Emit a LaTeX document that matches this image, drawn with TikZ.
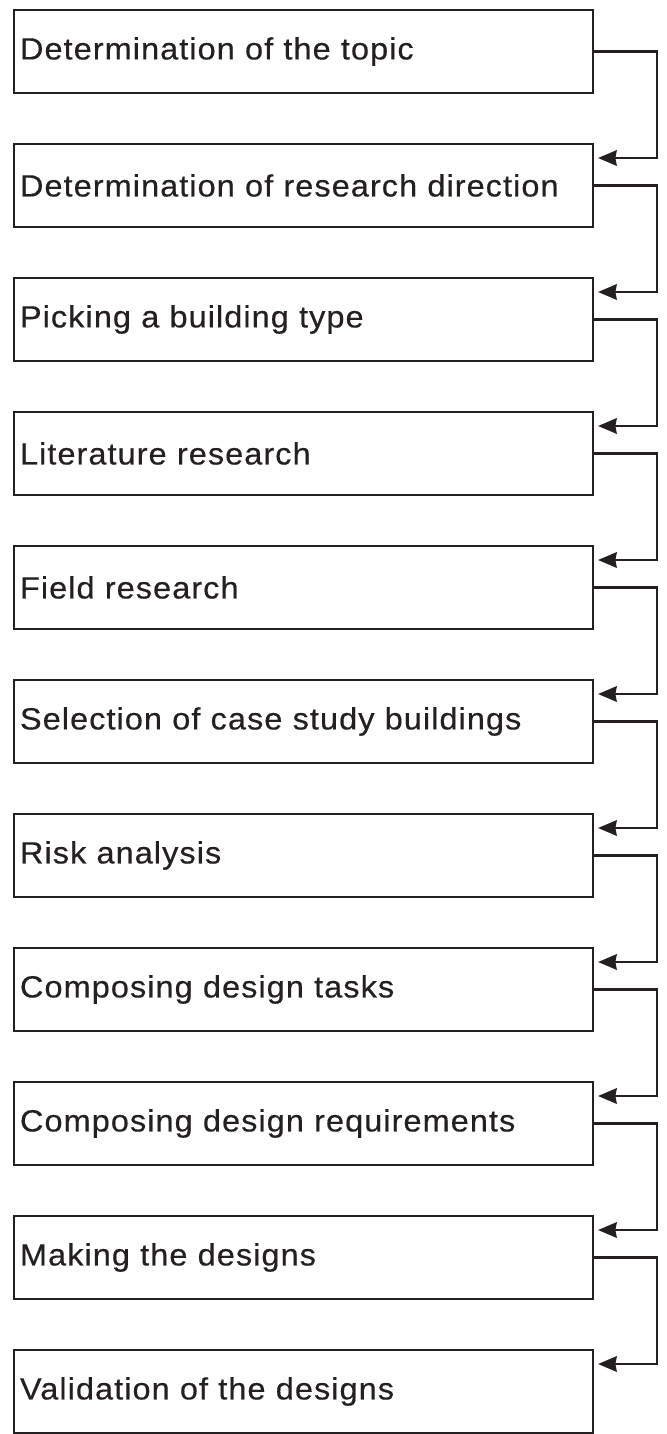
\documentclass[tikz,border=0pt]{standalone}
\usepackage{fontspec}
\newfontfamily\boxfont{Liberation Sans}[FakeStretch=1.06,LetterSpace=3.4,FakeBold=0.4]
\usetikzlibrary{positioning,calc,arrows.meta}
\definecolor{inkgray}{rgb}{0.14,0.12,0.13}
\begin{document}
\begin{tikzpicture}[x=0.75pt,y=-0.75pt,line width=2.2pt]

    % key values (in px of the page)
    \def\xrail{657}
    \def\tipin{5}
    \def\tipdown{14}

    % Styles
    \tikzstyle{stepbox}=[draw=inkgray, rectangle, outer sep=0pt, inner xsep=4.5pt,
        minimum width=434.25pt, minimum height=62.25pt, text width=425.25pt,
        align=left, font=\boxfont\fontsize{23}{28}\selectfont, text=inkgray]
    \tikzstyle{flow}=[draw=inkgray, -{Stealth[length=14pt,width=11.5pt,inset=1pt]}]

    \useasboundingbox (0,0) rectangle (667,1434);

    % steps
    \node[stepbox] (topic) at (303.5,51.5) {Determination of the topic};
    \node[stepbox, below=38.25pt of topic] (direction) {Determination of research direction};
    \node[stepbox, below=38.25pt of direction] (buildingtype) {Picking a building type};
    \node[stepbox, below=38.25pt of buildingtype] (literature) {Literature research};
    \node[stepbox, below=38.25pt of literature] (field) {Field research};
    \node[stepbox, below=38.25pt of field] (casestudy) {Selection of case study buildings};
    \node[stepbox, below=38.25pt of casestudy] (risk) {Risk analysis};
    \node[stepbox, below=38.25pt of risk] (tasks) {Composing design tasks};
    \node[stepbox, below=38.25pt of tasks] (requirements) {Composing design requirements};
    \node[stepbox, below=38.25pt of requirements] (designs) {Making the designs};
    \node[stepbox, below=38.25pt of designs] (validation) {Validation of the designs};

    % rail on the right
    \coordinate (rail) at (\xrail,0);

    % connectors
    \draw[flow] (topic.east) -- (topic.east -| rail) |- ($(direction.north east)+(\tipin,\tipdown)$);
    \draw[flow] (direction.east) -- (direction.east -| rail) |- ($(buildingtype.north east)+(\tipin,\tipdown)$);
    \draw[flow] (buildingtype.east) -- (buildingtype.east -| rail) |- ($(literature.north east)+(\tipin,\tipdown)$);
    \draw[flow] (literature.east) -- (literature.east -| rail) |- ($(field.north east)+(\tipin,\tipdown)$);
    \draw[flow] (field.east) -- (field.east -| rail) |- ($(casestudy.north east)+(\tipin,\tipdown)$);
    \draw[flow] (casestudy.east) -- (casestudy.east -| rail) |- ($(risk.north east)+(\tipin,\tipdown)$);
    \draw[flow] (risk.east) -- (risk.east -| rail) |- ($(tasks.north east)+(\tipin,\tipdown)$);
    \draw[flow] (tasks.east) -- (tasks.east -| rail) |- ($(requirements.north east)+(\tipin,\tipdown)$);
    \draw[flow] (requirements.east) -- (requirements.east -| rail) |- ($(designs.north east)+(\tipin,\tipdown)$);
    \draw[flow] (designs.east) -- (designs.east -| rail) |- ($(validation.north east)+(\tipin,\tipdown)$);

\end{tikzpicture}
\end{document}
